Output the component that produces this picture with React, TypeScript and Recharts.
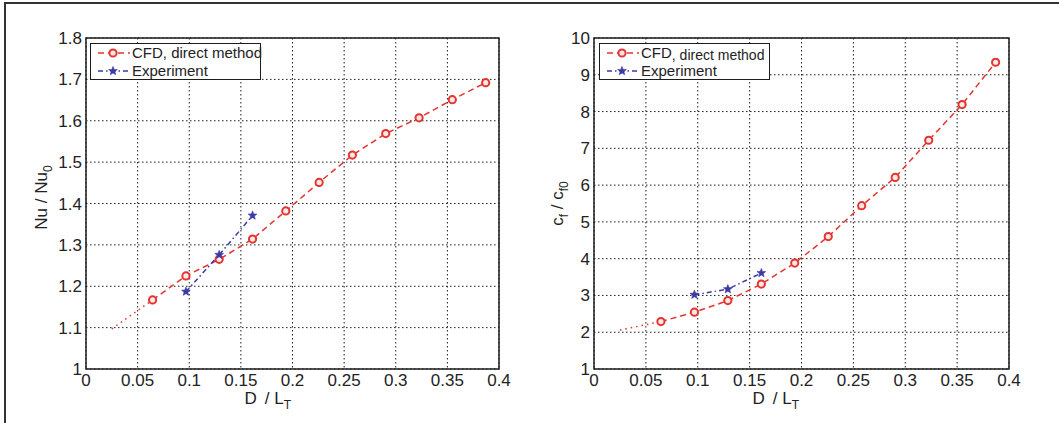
import React from 'react';
import { LineChart, Line, XAxis, YAxis, CartesianGrid, ReferenceArea, Legend } from 'recharts';

// Abscissa shared by both panels: D / L_T
const xTicks = [0, 0.05, 0.1, 0.15, 0.2, 0.25, 0.3, 0.35, 0.4];
const dRatioCfd = [0.0645, 0.0968, 0.129, 0.1613, 0.1935, 0.2258, 0.258, 0.2903, 0.3226, 0.3548, 0.3871];
const dRatioExp = [0.0968, 0.129, 0.1613];
const dRatioExtrap = [0.025, 0.0645];

// Heat transfer ratio Nu / Nu0
const nuTicks = [1, 1.1, 1.2, 1.3, 1.4, 1.5, 1.6, 1.7, 1.8];
const nuCfd = [1.167, 1.225, 1.265, 1.314, 1.382, 1.451, 1.517, 1.569, 1.607, 1.651, 1.692];
const nuExp = [1.187, 1.276, 1.371];
const nuExtrap = [1.097, 1.167];

// Friction ratio cf / cf0
const cfTicks = [1, 2, 3, 4, 5, 6, 7, 8, 9, 10];
const cfCfd = [2.29, 2.545, 2.86, 3.31, 3.88, 4.6, 5.44, 6.21, 7.22, 8.19, 9.34];
const cfExp = [3.02, 3.17, 3.61];
const cfExtrap = [2.06, 2.29];

const RED = '#e3342f';
const BLUE = '#3b3aa6';
const INK = '#1c1c1c';
const FONT = '"Liberation Sans", Arial, Helvetica, sans-serif';

const zip = (xs: number[], ys: number[]) => xs.map((x, i) => ({ x, y: ys[i] }));

const StarDot = (props: any) => {
  const { cx, cy } = props;
  if (cx == null || cy == null) return null;
  const pts: string[] = [];
  for (let i = 0; i < 10; i++) {
    const r = i % 2 === 0 ? 4.6 : 2;
    const a = -Math.PI / 2 + (i * Math.PI) / 5;
    pts.push(`${cx + r * Math.cos(a)},${cy + r * Math.sin(a)}`);
  }
  return <polygon points={pts.join(' ')} fill={BLUE} stroke={BLUE} strokeWidth={0.6} strokeDasharray="none" />;
};

const CircleDot = (props: any) => {
  const { cx, cy } = props;
  if (cx == null || cy == null) return null;
  return <circle cx={cx} cy={cy} r={3.6} stroke={RED} strokeWidth={2} fill="#fde8e8" strokeDasharray="none" />;
};

function LegendBox({ cfdLabel }: { cfdLabel: React.ReactNode }) {
  return (
    <div
      style={{
        position: 'relative',
        width: 171,
        height: 37,
        boxSizing: 'border-box',
        border: `1.5px solid ${INK}`,
        background: '#fff',
        fontFamily: FONT,
        fontSize: 15,
        color: '#222',
      }}
    >
      <svg width={40} height={37} style={{ position: 'absolute', left: 0, top: 0 }}>
        <line x1={7} y1={9} x2={39} y2={9} stroke={RED} strokeWidth={1.5} strokeDasharray="6 4" />
        <CircleDot cx={22} cy={9} />
        <line x1={7} y1={27} x2={39} y2={27} stroke={BLUE} strokeWidth={1.5} strokeDasharray="5 3 1.5 3" />
        <StarDot cx={22} cy={27} />
      </svg>
      <div style={{ position: 'absolute', left: 41, top: 0, lineHeight: '18px', whiteSpace: 'nowrap' }}>{cfdLabel}</div>
      <div style={{ position: 'absolute', left: 41, top: 18, lineHeight: '18px', whiteSpace: 'nowrap' }}>Experiment</div>
    </div>
  );
}

type PanelProps = {
  width: number;
  yAxisWidth: number;
  rightMargin: number;
  yDomain: [number, number];
  yTicks: number[];
  cfd: number[];
  exp: number[];
  extrap: number[];
  yLabel: (vb: any) => React.ReactNode;
  xLabelShift: number;
  legendLeft: number;
  cfdLabel: React.ReactNode;
};

function Panel(p: PanelProps) {
  const xLabel = (props: any) => {
    const vb = props.viewBox;
    const x0 = vb.x + vb.width / 2 + p.xLabelShift;
    return (
      <text x={x0} y={vb.y + 35} fontSize={17} fontFamily={FONT} fill="#222">
        D<tspan dx={8}>/ L</tspan>
        <tspan dy={5} fontSize={12}>T</tspan>
      </text>
    );
  };
  const yLabel = (props: any) => p.yLabel(props.viewBox);
  return (
    <LineChart
      width={p.width}
      height={423}
      margin={{ top: 38, right: p.rightMargin, bottom: 24, left: 0 }}
      style={{ fontFamily: FONT }}
    >
      <CartesianGrid stroke={INK} strokeWidth={1} strokeDasharray="1.5 2.5" />
      <XAxis
        type="number"
        dataKey="x"
        domain={[0, 0.4]}
        ticks={xTicks}
        allowDataOverflow
        axisLine={false}
        tickLine={false}
        tickSize={0}
        tickMargin={5}
        height={30}
        tick={{ fontSize: 17, fill: '#222' }}
        label={xLabel}
      />
      <YAxis
        type="number"
        dataKey="y"
        domain={p.yDomain}
        ticks={p.yTicks}
        allowDataOverflow
        axisLine={false}
        tickLine={false}
        tickSize={0}
        tickMargin={4}
        width={p.yAxisWidth}
        tick={{ fontSize: 17, fill: '#222' }}
        label={yLabel}
      />
      <ReferenceArea
        x1={0}
        x2={0.4}
        y1={p.yDomain[0]}
        y2={p.yDomain[1]}
        fill="none"
        fillOpacity={0}
        stroke={INK}
        strokeWidth={1.5}
      />
      <Line
        data={zip(dRatioExtrap, p.extrap)}
        dataKey="y"
        type="linear"
        stroke={RED}
        strokeWidth={1.5}
        strokeDasharray="1.5 4"
        dot={false}
        legendType="none"
        isAnimationActive={false}
      />
      <Line
        data={zip(dRatioCfd, p.cfd)}
        dataKey="y"
        name="CFD, direct method"
        type="linear"
        stroke={RED}
        strokeWidth={1.5}
        strokeDasharray="6 4"
        dot={<CircleDot />}
        isAnimationActive={false}
      />
      <Line
        data={zip(dRatioExp, p.exp)}
        dataKey="y"
        name="Experiment"
        type="linear"
        stroke={BLUE}
        strokeWidth={1.5}
        strokeDasharray="5 3 1.5 3"
        dot={<StarDot />}
        isAnimationActive={false}
      />
      <Legend
        layout="horizontal"
        verticalAlign="middle"
        align="center"
        wrapperStyle={{ position: 'absolute', left: p.legendLeft, top: 43, width: 171, height: 37 }}
        content={() => <LegendBox cfdLabel={p.cfdLabel} />}
      />
    </LineChart>
  );
}

export default function App() {
  return (
    <div style={{ position: 'absolute', left: 0, top: 0, width: 1059, height: 423, background: '#fff', overflow: 'hidden' }}>
      <div
        style={{
          position: 'absolute',
          left: 4,
          top: 2,
          right: 0,
          bottom: 0,
          borderTop: '2px solid #333',
          borderLeft: '2px solid #333',
        }}
      />
      <div style={{ position: 'absolute', left: 0, top: 0 }}>
        <Panel
          width={530}
          yAxisWidth={86}
          rightMargin={31}
          yDomain={[1, 1.8]}
          yTicks={nuTicks}
          cfd={nuCfd}
          exp={nuExp}
          extrap={nuExtrap}
          xLabelShift={-48}
          legendLeft={90}
          cfdLabel="CFD, direct method"
          yLabel={(vb: any) => {
            const x = vb.x + 47;
            const y = vb.y + vb.height / 2 - 6;
            return (
              <text x={x} y={y} transform={`rotate(-90, ${x}, ${y})`} textAnchor="middle" fontSize={17} fontFamily={FONT} fill="#222">
                Nu / Nu<tspan dy={5} fontSize={12}>0</tspan>
              </text>
            );
          }}
        />
      </div>
      <div style={{ position: 'absolute', left: 530, top: 0 }}>
        <Panel
          width={529}
          yAxisWidth={64}
          rightMargin={50}
          yDomain={[1, 10]}
          yTicks={cfTicks}
          cfd={cfCfd}
          exp={cfExp}
          extrap={cfExtrap}
          xLabelShift={-49}
          legendLeft={69}
          cfdLabel={
            <span>
              CFD<span style={{ fontSize: 14, position: 'relative', top: 2 }}>, direct method</span>
            </span>
          }
          yLabel={(vb: any) => {
            const x = vb.x + 33;
            const y = vb.y + vb.height / 2;
            return (
              <text x={x} y={y} transform={`rotate(-90, ${x}, ${y})`} textAnchor="middle" fontSize={17} fontFamily={FONT} fill="#222">
                c<tspan dy={5} fontSize={12}>f</tspan>
                <tspan dy={-5}> / c</tspan>
                <tspan dy={5} fontSize={12}>f0</tspan>
              </text>
            );
          }}
        />
      </div>
    </div>
  );
}
